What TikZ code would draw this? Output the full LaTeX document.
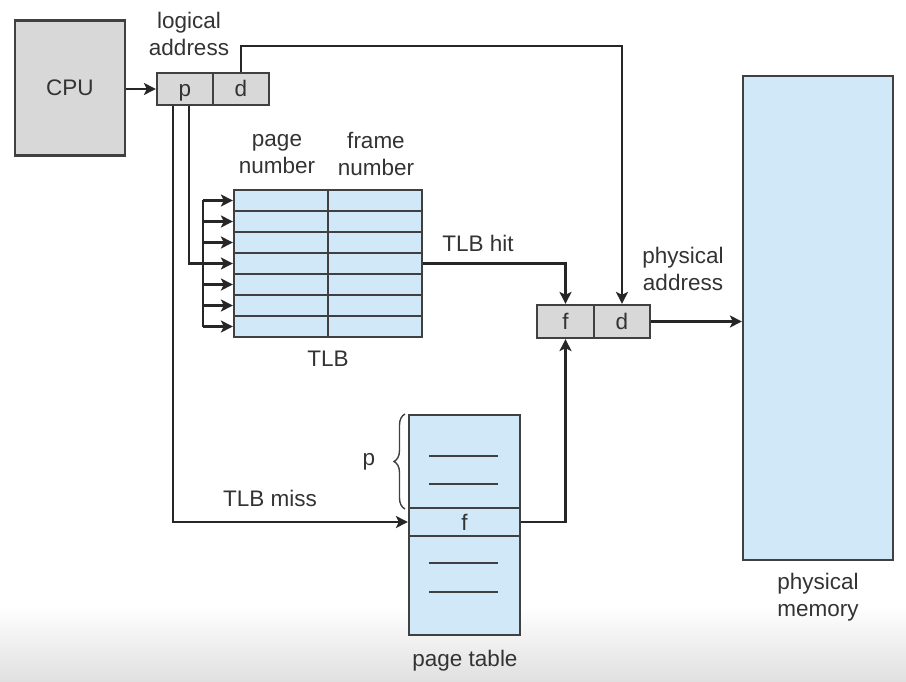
\documentclass[tikz,border=0pt]{standalone}
\usepackage{fontspec}
\setmainfont{Liberation Sans}
\usetikzlibrary{arrows.meta,decorations.pathreplacing,calc}
\definecolor{boxgray}{HTML}{D8D8D8}
\definecolor{lblue}{HTML}{D0E8F8}
\definecolor{edgec}{HTML}{404040}
\definecolor{txt}{HTML}{333333}
\begin{document}
\begin{tikzpicture}[x=1pt,y=-1pt,
  font=\fontsize{22.5}{27}\selectfont, text=txt,
  graybox/.style={draw=edgec, line width=2.2pt, fill=boxgray, inner sep=0pt, text height=16pt, text depth=0pt},
  bluebox/.style={draw=edgec, line width=2.2pt, fill=lblue, inner sep=0pt, text height=16pt, text depth=0pt},
  cell/.style={bluebox, minimum width=94, minimum height=21},
  arr/.style={draw=black!85, line width=2.5pt, -{Stealth[length=12pt,width=12pt,inset=3pt]}},
  conn/.style={draw=black!85, line width=2.5pt},
  lbl/.style={align=center, inner sep=0pt}]
\useasboundingbox (0,0) rectangle (906,682);
\shade[top color=white, bottom color={rgb,255:red,224;green,224;blue,224}] (0,605) rectangle (906,682);

% CPU and logical address
\node[graybox, minimum width=110, minimum height=135] (cpu) at (70,88) {CPU};
\node[graybox, minimum width=56, minimum height=32] (p) at (185,89) {p};
\node[graybox, minimum width=56, minimum height=32] (d) at (241,89) {d};
\node[lbl] (la) at (189,34) {logical\\address};

% TLB
\foreach \i in {1,...,7}{
  \node[cell] (t\i l) at (281,{190+21*(\i-0.5)}) {};
  \node[cell] (t\i r) at (375,{190+21*(\i-0.5)}) {};
}
\node[lbl] (pn) at (277,154) {page\\number};
\node[lbl] (fn) at (376,154) {frame\\number};
\node[lbl] (tlb) at (328,359) {TLB};

% page table
\node[bluebox, minimum width=111, minimum height=93] (ptt) at (464.5,461.5) {};
\node[bluebox, minimum width=111, minimum height=28] (ptf) at (464.5,522) {f};
\node[bluebox, minimum width=111, minimum height=99] (ptb) at (464.5,585.5) {};
\foreach \yy in {456,484,563,592}{
  \draw[draw=edgec, line width=2.2pt] (429,\yy) -- (498,\yy);
}
\node[lbl] (ptl) at (465,661) {page table};
\draw[draw=edgec, line width=1.4pt, decorate, decoration={brace, amplitude=11pt}] (405,509) -- (405,414);
\node[lbl] (pl) at (369,462) {p};

% physical address
\node[graybox, minimum width=57, minimum height=33] (f2) at (565.5,321.5) {f};
\node[graybox, minimum width=56, minimum height=33] (d2) at (622,321.5) {d};
\node[lbl] (pa) at (683,269) {physical\\address};

% physical memory
\node[bluebox, minimum width=150, minimum height=484] (mem) at (818,318) {};
\node[lbl] (pm) at (818,597) {physical\\memory};

% connectors
\draw[arr] (cpu.east |- p.west) -- (p.west);
\draw[arr] (d.north) -- ++(0,-26) -| (d2.north);
\draw[arr] ([xshift=-12pt]p.south) |- (ptf.west);
\draw[arr] ([xshift=4pt]p.south) |- (t4l.west);
\coordinate (bt) at ($(t1l.west)+(-30,0)$);
\coordinate (bb) at ($(t7l.west)+(-30,0)$);
\draw[conn] (bt) -- (bb);
\foreach \i in {1,2,3,5,6,7}{
  \draw[arr] ($(t\i l.west)+(-30,0)$) -- (t\i l.west);
}
\draw[arr] (t4r.east) -| (f2.north);
\node[lbl] (hit) at (478,243) {TLB hit};
\draw[arr] (ptf.east) -| (f2.south);
\node[lbl] (miss) at (270,498) {TLB miss};
\draw[arr] (d2.east) -- (mem.west |- d2.east);
\end{tikzpicture}
\end{document}
